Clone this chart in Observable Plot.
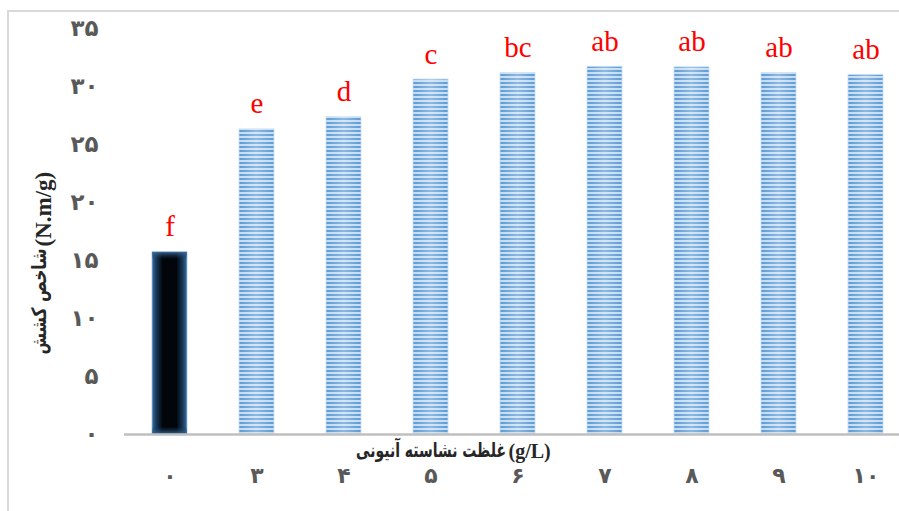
<!DOCTYPE html>
<html><head><meta charset="utf-8">
<script src="https://cdn.jsdelivr.net/npm/d3@7"></script>
<script src="https://cdn.jsdelivr.net/npm/@observablehq/plot@0.6"></script>
<style>
html,body{margin:0;padding:0;background:#fff;overflow:hidden;width:899px;height:511px}
#frame{position:absolute;left:7px;top:10px;width:1000px;height:600px;border:2px solid #d9d9d9;}
#chart{position:absolute;left:0;top:0}
</style></head><body>
<div id="frame"></div><div id="chart"></div>
<script>
const concentrations = [0, 3, 4, 5, 6, 7, 8, 9, 10];
const xTickLabels = ["۰", "۳", "۴", "۵", "۶", "۷", "۸", "۹", "۱۰"];
const tensileIndex = [15.7, 26.3, 27.35, 30.6, 31.15, 31.7, 31.65, 31.15, 31.0];
const letters = ["f", "e", "d", "c", "bc", "ab", "ab", "ab", "ab"];
const yTicks = [0, 5, 10, 15, 20, 25, 30, 35];
const yTickLabels = ["۰", "۵", "۱۰", "۱۵", "۲۰", "۲۵", "۳۰", "۳۵"];
const xTitleText = "غلظت نشاسته آنیونی";
const xTitleUnit = "(g/L)";
const yTitleText = "شاخص کشش";
const yTitleUnit = "(N.m/g)";

const data = concentrations.map((c, i) => ({c, label: xTickLabels[i], v: tensileIndex[i], letter: letters[i], control: c === 0}));
const control = data.filter(d => d.control);
const treated = data.filter(d => !d.control);

const faFont = "'DejaVu Sans', sans-serif";
const latinFont = "'Liberation Serif', serif";
const svg = Plot.plot({
  width: 899, height: 511,
  marginLeft: 124, marginRight: 0, marginTop: 28, marginBottom: 77,
  style: {background: "transparent", fontFamily: faFont},
  x: {domain: xTickLabels, range: [124, 911], paddingInner: 0.6, paddingOuter: 0.3, label: null},
  y: {domain: [0, 35], range: [434, 28], label: null},
  marks: [
    Plot.barY(control, {x: "label", y: "v", fill: "url(#ctrlGrad)", stroke: "#9dc3e6", strokeWidth: 0.8}),
    Plot.barY(control, {x: "label", y: "v", fill: "url(#ctrlGradV)"}),
    Plot.barY(treated, {x: "label", y: "v", fill: "url(#stripes)", stroke: "#c9def2", strokeWidth: 0.8}),
    Plot.barY(treated, {x: "label", y: "v", fill: "url(#sheen)"}),
    Plot.ruleY([0], {stroke: "#bfbfbf", strokeWidth: 2.5}),
    Plot.text(data, {x: "label", y: "v", text: "letter", dy: -16, lineAnchor: "bottom", fill: "#ff0000", fontSize: 29, fontFamily: latinFont}),
    Plot.axisY(yTicks, {tickSize: 0, tickPadding: 26, tickFormat: d => yTickLabels[yTicks.indexOf(d)], fontSize: 23, fontWeight: "bold", color: "#595959", label: null}),
    Plot.axisX({tickSize: 0, tickPadding: 33, fontSize: 22, fontWeight: "bold", color: "#595959", label: null}),
    Plot.text([xTitleText], {frameAnchor: "bottom", textAnchor: "end", lineAnchor: "middle", dx: -6, dy: 16, fontSize: 20, fontWeight: "bold", fill: "#262626"}),
    Plot.text([xTitleUnit], {frameAnchor: "bottom", textAnchor: "start", lineAnchor: "middle", dx: -3.5, dy: 17, fontSize: 20, fontWeight: "bold", fill: "#262626", fontFamily: latinFont}),
    Plot.text([yTitleText], {frameAnchor: "left", textAnchor: "end", lineAnchor: "middle", rotate: -90, dx: -85, dy: 17, fontSize: 20, fontWeight: "bold", fill: "#262626"}),
    Plot.text([yTitleUnit], {frameAnchor: "left", textAnchor: "start", lineAnchor: "middle", rotate: -90, dx: -81, dy: 15, fontSize: 23, fontWeight: "bold", fill: "#262626", fontFamily: latinFont})
  ]
});

d3.select(svg).insert("defs", ":first-child").html(`
  <pattern id="stripes" patternUnits="userSpaceOnUse" width="8" height="4">
    <rect width="8" height="4" fill="#c3dbf1"/>
    <rect y="2" width="8" height="2" fill="#5b9bd5"/>
  </pattern>
  <linearGradient id="sheen" x1="0" x2="1" y1="0" y2="0">
    <stop offset="0" stop-color="#ffffff" stop-opacity="0"/>
    <stop offset="0.5" stop-color="#ffffff" stop-opacity="0.3"/>
    <stop offset="1" stop-color="#ffffff" stop-opacity="0"/>
  </linearGradient>
  <linearGradient id="ctrlGrad" x1="0" x2="1" y1="0" y2="0">
    <stop offset="0" stop-color="#3a6b9b"/>
    <stop offset="0.12" stop-color="#183a5c"/>
    <stop offset="0.3" stop-color="#02060b"/>
    <stop offset="0.7" stop-color="#02060b"/>
    <stop offset="0.88" stop-color="#183a5c"/>
    <stop offset="1" stop-color="#3a6b9b"/>
  </linearGradient>
  <linearGradient id="ctrlGradV" x1="0" x2="0" y1="0" y2="1">
    <stop offset="0" stop-color="#3a6b9b" stop-opacity="0.9"/>
    <stop offset="0.04" stop-color="#183a5c" stop-opacity="0"/>
    <stop offset="0.96" stop-color="#183a5c" stop-opacity="0"/>
    <stop offset="1" stop-color="#3a6b9b" stop-opacity="0.9"/>
  </linearGradient>
`);
document.getElementById("chart").appendChild(svg);

// compress the Persian title runs along their writing direction to match the reference's narrower typeface
d3.select(svg).selectAll("text").each(function () {
  const t = this.textContent;
  const target = t === xTitleText ? 150 : t === yTitleText ? 106 : null;
  if (target == null) return;
  const w = this.getComputedTextLength();
  if (!(w > 0)) return;
  const s = target / w;
  const el = this;
  const tr = el.getAttribute("transform");
  if (tr) {
    el.setAttribute("transform", tr + ` scale(${s},1)`);
  } else {
    const x = +el.getAttribute("x") || 0, y = +el.getAttribute("y") || 0;
    el.setAttribute("transform", `translate(${x},${y}) scale(${s},1)`);
    el.setAttribute("x", 0); el.setAttribute("y", 0);
  }
});
</script>
</body></html>
